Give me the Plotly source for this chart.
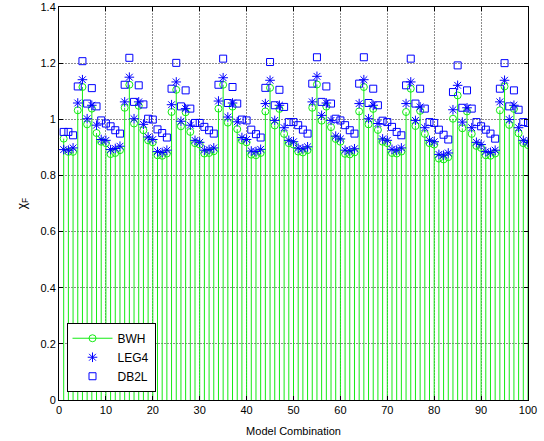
import plotly.graph_objects as go

x_vals = list(range(1, 101))

bwh = [
    0.931, 0.884, 0.884, 1.032, 1.115, 0.982, 1.038, 0.951, 0.920, 0.915,
    0.876, 0.880, 0.890, 1.041, 1.123, 0.985, 1.048, 0.961, 0.925, 0.918,
    0.872, 0.870, 0.878, 1.026, 1.105, 0.975, 1.025, 0.955, 0.915, 0.910,
    0.878, 0.880, 0.886, 1.038, 1.123, 0.988, 1.045, 0.965, 0.925, 0.918,
    0.874, 0.872, 0.880, 1.028, 1.112, 0.978, 1.037, 0.948, 0.915, 0.910,
    0.885, 0.882, 0.890, 1.041, 1.124, 0.995, 1.045, 0.972, 0.930, 0.920,
    0.877, 0.875, 0.882, 1.028, 1.115, 0.982, 1.037, 0.962, 0.920, 0.915,
    0.880, 0.878, 0.885, 1.026, 1.109, 0.976, 1.030, 0.948, 0.915, 0.910,
    0.860, 0.857, 0.865, 1.002, 1.085, 0.968, 1.028, 0.948, 0.905, 0.898,
    0.872, 0.870, 0.878, 1.032, 1.117, 0.980, 1.037, 0.950, 0.915, 0.908,
]

leg4 = [
    0.892, 0.890, 0.898, 1.058, 1.141, 1.002, 1.050, 0.979, 0.928, 0.925,
    0.892, 0.896, 0.904, 1.062, 1.150, 1.002, 1.062, 0.982, 0.937, 0.928,
    0.885, 0.882, 0.890, 1.052, 1.133, 0.993, 1.038, 0.979, 0.925, 0.918,
    0.890, 0.892, 0.898, 1.065, 1.148, 1.008, 1.058, 0.991, 0.935, 0.928,
    0.887, 0.885, 0.893, 1.056, 1.139, 0.996, 1.050, 0.970, 0.925, 0.920,
    0.897, 0.895, 0.902, 1.062, 1.153, 1.014, 1.058, 0.996, 0.940, 0.930,
    0.890, 0.888, 0.895, 1.056, 1.141, 1.002, 1.050, 0.985, 0.930, 0.925,
    0.893, 0.890, 0.898, 1.056, 1.133, 0.996, 1.044, 0.970, 0.925, 0.920,
    0.875, 0.872, 0.880, 1.034, 1.121, 0.990, 1.041, 0.970, 0.918, 0.910,
    0.885, 0.882, 0.890, 1.062, 1.139, 0.999, 1.050, 0.970, 0.925, 0.918,
]

db2l = [
    0.955, 0.955, 0.943, 1.117, 1.207, 1.056, 1.111, 1.046, 0.996, 0.985,
    0.975, 0.961, 0.949, 1.123, 1.219, 1.062, 1.121, 1.053, 1.002, 0.999,
    0.964, 0.951, 0.935, 1.109, 1.201, 1.046, 1.103, 1.038, 0.987, 0.987,
    0.973, 0.961, 0.949, 1.123, 1.216, 1.058, 1.115, 1.056, 0.999, 0.996,
    0.963, 0.947, 0.935, 1.112, 1.204, 1.050, 1.105, 1.044, 0.990, 0.990,
    0.979, 0.963, 0.949, 1.127, 1.221, 1.062, 1.117, 1.056, 1.002, 0.996,
    0.979, 0.961, 0.949, 1.127, 1.221, 1.058, 1.109, 1.050, 0.995, 0.990,
    0.973, 0.955, 0.943, 1.121, 1.216, 1.056, 1.109, 1.038, 0.990, 0.987,
    0.963, 0.945, 0.928, 1.097, 1.192, 1.041, 1.103, 1.038, 0.990, 0.975,
    0.963, 0.949, 0.931, 1.109, 1.200, 1.046, 1.103, 1.034, 0.990, 0.987,
]

x_ticks = [0, 10, 20, 30, 40, 50, 60, 70, 80, 90, 100]
y_ticks = [0, 0.2, 0.4, 0.6, 0.8, 1, 1.2, 1.4]
y_tick_labels = ["0", "0.2", "0.4", "0.6", "0.8", "1", "1.2", "1.4"]

GREEN = "rgb(20,235,20)"
BLUE = "rgb(0,0,255)"
FONT = "Liberation Sans, Arial, sans-serif"

# stems for BWH
stem_x, stem_y = [], []
for xv, yv in zip(x_vals, bwh):
    stem_x += [xv, xv, None]
    stem_y += [0, yv, None]

fig = go.Figure()
fig.add_trace(go.Scatter(x=stem_x, y=stem_y, mode="lines",
                         line=dict(color=GREEN, width=1), showlegend=False,
                         hoverinfo="skip"))
fig.add_trace(go.Scatter(x=x_vals, y=bwh, mode="markers", showlegend=False,
                         marker=dict(symbol="circle-open", size=7, color=GREEN,
                                     line=dict(color=GREEN, width=1))))
fig.add_trace(go.Scatter(x=x_vals, y=leg4, mode="markers", showlegend=False,
                         marker=dict(symbol="asterisk-open", size=8, color=BLUE,
                                     line=dict(color=BLUE, width=1))))
fig.add_trace(go.Scatter(x=x_vals, y=db2l, mode="markers", showlegend=False,
                         marker=dict(symbol="square-open", size=7, color=BLUE,
                                     line=dict(color=BLUE, width=1))))

# legend entries
fig.add_trace(go.Scatter(x=[None], y=[None], mode="lines+markers", name="BWH",
                         line=dict(color=GREEN, width=1),
                         marker=dict(symbol="circle-open", size=7, color=GREEN,
                                     line=dict(color=GREEN, width=1))))
fig.add_trace(go.Scatter(x=[None], y=[None], mode="markers", name="LEG4",
                         marker=dict(symbol="asterisk-open", size=8, color=BLUE,
                                     line=dict(color=BLUE, width=1))))
fig.add_trace(go.Scatter(x=[None], y=[None], mode="markers", name="DB2L",
                         marker=dict(symbol="square-open", size=7, color=BLUE,
                                     line=dict(color=BLUE, width=1))))

axis_common = dict(
    showline=True, linecolor="black", linewidth=1, mirror="allticks",
    ticks="inside", ticklen=4, tickcolor="black", automargin=False,
    showgrid=True, gridcolor="rgb(140,140,140)", gridwidth=1, griddash="2px,1px",
    zeroline=False, tickfont=dict(family=FONT, size=11, color="black"),
)

fig.update_xaxes(range=[0, 100], tickvals=x_ticks,
                 title=dict(text="Model Combination", standoff=12,
                            font=dict(family=FONT, size=11, color="black")),
                 **axis_common)
fig.update_yaxes(range=[0, 1.4], tickvals=y_ticks, ticktext=y_tick_labels,
                 title=dict(text="χ<sub>F</sub>", standoff=11,
                            font=dict(family=FONT, size=12, color="black")),
                 **axis_common)

fig.update_layout(
    width=544, height=441,
    margin=dict(l=59, r=16, t=7, b=41),
    paper_bgcolor="white", plot_bgcolor="white",
    font=dict(family=FONT, size=11, color="black"),
    legend=dict(x=0.016, y=0.021, xanchor="left", yanchor="bottom",
                bgcolor="white", bordercolor="black", borderwidth=1,
                font=dict(family=FONT, size=12, color="black"),
                itemwidth=40, tracegroupgap=0),
)

fig.write_html("out.html", config={"displayModeBar": False},
               post_script="document.body.style.margin='0';")
